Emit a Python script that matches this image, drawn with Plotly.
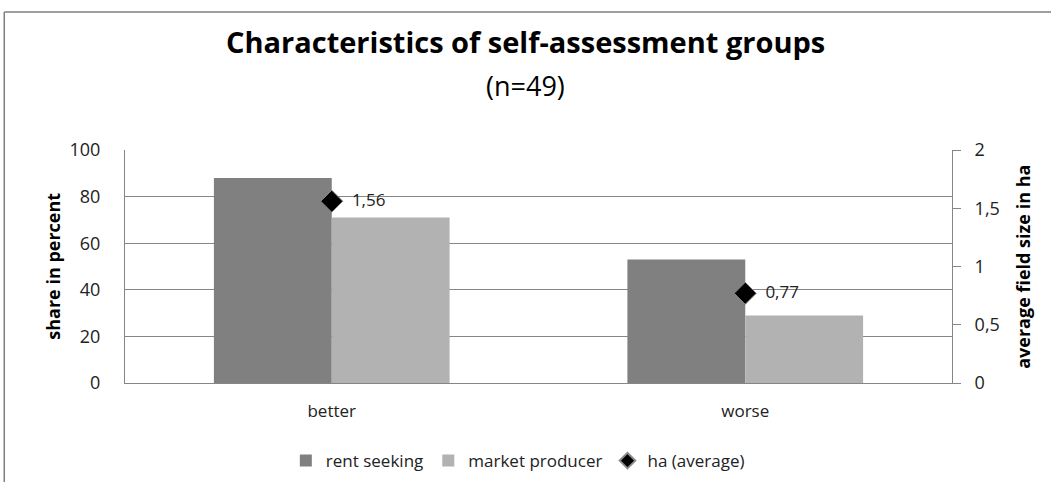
import plotly.graph_objects as go

# data
groups = ["better", "worse"]
rent_seeking = [88, 53]
market_producer = [71, 29]
ha_average = [1.56, 0.77]

ha_labels = ["\u2002" + f"{v:.2f}".replace(".", ",") for v in ha_average]

FONT = "Open Sans"
GRID = "#868686"

fig = go.Figure()

fig.add_trace(go.Bar(
    x=groups, y=rent_seeking,
    name="rent seeking",
    marker=dict(color="#808080", line=dict(width=0)),
))
fig.add_trace(go.Bar(
    x=groups, y=market_producer,
    name="market producer",
    marker=dict(color="#b2b2b2", line=dict(width=0)),
))
fig.add_trace(go.Scatter(
    x=groups, y=ha_average,
    name="ha (average)",
    yaxis="y2",
    mode="markers+text",
    marker=dict(symbol="diamond", size=17, color="black",
                line=dict(color="#8a8a8a", width=1)),
    text=ha_labels,
    textposition="middle right",
    textfont=dict(family=FONT, size=17, color="#222222"),
    cliponaxis=False,
))

fig.update_layout(
    width=1051, height=482,
    margin=dict(l=125, r=99, t=150, b=99, autoexpand=False),
    paper_bgcolor="white", plot_bgcolor="white",
    separators=", ",
    barmode="group", bargap=0.43, bargroupgap=0,
    font=dict(family=FONT, size=15, color="#222222"),
    xaxis=dict(
        showgrid=False, showline=True, linecolor=GRID, linewidth=1,
        ticks="", ticklabelstandoff=13,
        tickfont=dict(size=17),
    ),
    yaxis=dict(
        range=[0, 100], dtick=20,
        showgrid=True, gridcolor=GRID, gridwidth=1,
        showline=True, linecolor=GRID, linewidth=1,
        ticks="", ticklabelstandoff=20, zeroline=False,
        tickfont=dict(size=18),
    ),
    yaxis2=dict(
        range=[0, 2], dtick=0.5, overlaying="y", side="right",
        showgrid=False, showline=True, linecolor=GRID, linewidth=1,
        ticks="outside", ticklen=8, tickcolor=GRID, ticklabelstandoff=10,
        zeroline=False, tickformat="~r",
        tickfont=dict(size=18),
    ),
    legend=dict(
        orientation="h", x=0.475, xanchor="center", y=-0.335, yanchor="middle",
        font=dict(size=17), traceorder="normal", itemsizing="constant",
        itemwidth=30,
    ),
    annotations=[
        dict(text="<b>Characteristics of self-assessment groups</b>",
             xref="paper", yref="paper", x=0.484, y=1.467,
             xanchor="center", yanchor="middle", showarrow=False,
             font=dict(family=FONT, size=29, color="black")),
        dict(text="(n=49)",
             xref="paper", yref="paper", x=0.484, y=1.277,
             xanchor="center", yanchor="middle", showarrow=False,
             font=dict(family=FONT, size=27, color="black")),
        dict(text="<b>share in percent</b>", textangle=-90,
             xref="paper", yref="paper", x=-0.088, y=0.5,
             xanchor="center", yanchor="middle", showarrow=False,
             font=dict(family=FONT, size=18, color="black")),
        dict(text="<b>average field size in ha</b>", textangle=-90,
             xref="paper", yref="paper", x=1.085, y=0.5,
             xanchor="center", yanchor="middle", showarrow=False,
             font=dict(family=FONT, size=18, color="black")),
    ],
    shapes=[
        # outer chart frame (top and left edges visible in the reference)
        dict(type="line", xref="paper", yref="paper",
             x0=-0.146, x1=1.2, y0=1.592, y1=1.592,
             line=dict(color="#7f7f7f", width=1.5)),
        dict(type="line", xref="paper", yref="paper",
             x0=-0.146, x1=-0.146, y0=1.592, y1=-0.5,
             line=dict(color="#7f7f7f", width=1.5)),
    ],
)

# drop the default page margin so the figure sits at the window origin
fig.write_html("out.html", config={"displayModeBar": False},
               post_script="document.body.style.margin='0';")
